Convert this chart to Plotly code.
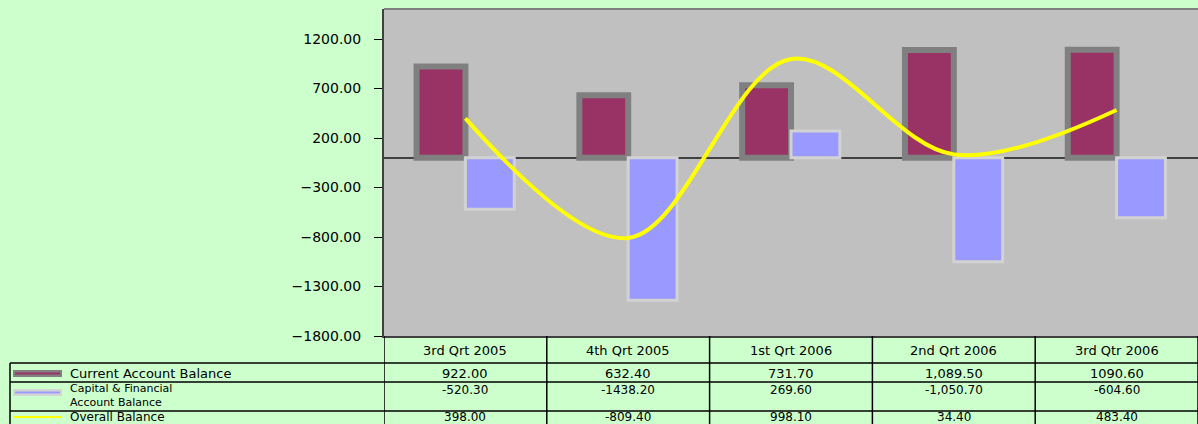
import plotly.graph_objects as go

# datos del grafico
quarters = ["3rd Qrt 2005", "4th Qrt 2005", "1st Qrt 2006", "2nd Qrt 2006", "3rd Qtr 2006"]
current_acc = [922.00, 632.40, 731.70, 1089.50, 1090.60]
capital_fin = [-520.30, -1438.20, 269.60, -1050.70, -604.60]
overall_bal = [398.00, -809.40, 998.10, 34.40, 483.40]

# texto de la tabla tal como aparece
current_txt = ["922.00", "632.40", "731.70", "1,089.50", "1090.60"]
capital_txt = ["-520.30", "-1438.20", "269.60", "-1,050.70", "-604.60"]
overall_txt = ["398.00", "-809.40", "998.10", "34.40", "483.40"]
row_names = ["Current Account Balance", "Capital & Financial", "Account Balance", "Overall Balance"]

W, H = 1198, 424
L, R, T, B = 384, 1198, 9, 336
FONT = "DejaVu Sans"

def py(p):  # pixel y -> paper y
    return (B - p) / (B - T)

def px(p):  # pixel x -> paper x
    return (p - L) / (R - L)

fig = go.Figure()
fig.add_trace(go.Bar(x=quarters, y=current_acc, name="Current Account Balance",
                     marker=dict(color="#993366", line=dict(color="#808080", width=6))))
fig.add_trace(go.Bar(x=quarters, y=capital_fin, name="Capital & Financial Account Balance",
                     marker=dict(color="#9999FF", line=dict(color="#D2D2D2", width=3))))
fig.add_trace(go.Scatter(x=quarters, y=overall_bal, name="Overall Balance", mode="lines",
                         line=dict(color="#FFFF00", width=4, shape="spline", smoothing=1.0)))

shapes = []
# borde superior del area
shapes.append(dict(type="line", xref="paper", yref="paper", x0=0, x1=1, y0=1, y1=1,
                   line=dict(color="#808080", width=2)))
# lineas horizontales de la tabla
for yy in [363, 382, 411]:
    shapes.append(dict(type="line", xref="paper", yref="paper", x0=px(10), x1=1,
                       y0=py(yy), y1=py(yy), line=dict(color="black", width=1.5)))
# linea vertical izquierda
shapes.append(dict(type="line", xref="paper", yref="paper", x0=px(10), x1=px(10),
                   y0=py(363), y1=py(440), line=dict(color="black", width=1.5)))
# lineas verticales entre columnas
for i in range(len(quarters) + 1):
    shapes.append(dict(type="line", xref="x", yref="paper", x0=i - 0.5, x1=i - 0.5,
                       y0=0, y1=py(440), line=dict(color="black", width=1.5)))
# claves de la leyenda
shapes.append(dict(type="rect", xref="paper", yref="paper", x0=px(13), x1=px(62),
                   y0=py(377), y1=py(370), fillcolor="#808080", line=dict(width=0)))
shapes.append(dict(type="line", xref="paper", yref="paper", x0=px(15), x1=px(60),
                   y0=py(373.5), y1=py(373.5), line=dict(color="#993366", width=2)))
shapes.append(dict(type="rect", xref="paper", yref="paper", x0=px(13), x1=px(62),
                   y0=py(396), y1=py(389), fillcolor="#D4D4D4", line=dict(width=0)))
shapes.append(dict(type="line", xref="paper", yref="paper", x0=px(15), x1=px(60),
                   y0=py(392.5), y1=py(392.5), line=dict(color="#9999FF", width=2)))
shapes.append(dict(type="line", xref="paper", yref="paper", x0=px(13), x1=px(62),
                   y0=py(417), y1=py(417), line=dict(color="#FFFF00", width=2)))

ann = []
fnt = dict(family=FONT, size=13, color="black")
fnt12 = dict(family=FONT, size=12, color="black")
small = dict(family=FONT, size=11, color="black")
for i, q in enumerate(quarters):
    for yy, t, f in [(350, q, fnt), (373, current_txt[i], fnt), (390, capital_txt[i], fnt12),
                     (416.5, overall_txt[i], fnt12)]:
        ann.append(dict(x=i, y=py(yy), xref="x", yref="paper", text=t, showarrow=False,
                        yanchor="middle", font=f))
for yy, t, f in zip([373, 388.5, 402, 416.5], row_names, [fnt, small, small, fnt12]):
    ann.append(dict(x=px(68), y=py(yy), xref="paper", yref="paper", text=t,
                    showarrow=False, xanchor="left", yanchor="middle", font=f))

fig.update_layout(
    width=W, height=H,
    margin=dict(l=L, r=W - R, t=T, b=H - B, pad=0),
    paper_bgcolor="#CCFFCC", plot_bgcolor="#C0C0C0",
    barmode="group", bargap=0.4, bargroupgap=0,
    showlegend=False,
    shapes=shapes, annotations=ann,
    font=dict(family=FONT, size=14, color="black"),
)
fig.update_xaxes(type="category", range=[-0.5, len(quarters) - 0.5], showticklabels=False,
                 showgrid=False, ticks="", showline=True, linecolor="#404040", linewidth=2,
                 zeroline=False)
fig.update_yaxes(range=[-1800, 1503], tick0=-1800, dtick=500, tickformat=".2f",
                 showgrid=False, ticks="outside", ticklen=8, tickcolor="black",
                 showline=True, linecolor="#404040", linewidth=2,
                 zeroline=True, zerolinecolor="#404040", zerolinewidth=2,
                 tickfont=dict(family=FONT, size=14, color="black"), ticklabelstandoff=10)

fig.write_html("out.html", config={"displayModeBar": False},
               post_script="document.body.style.margin='0';")
